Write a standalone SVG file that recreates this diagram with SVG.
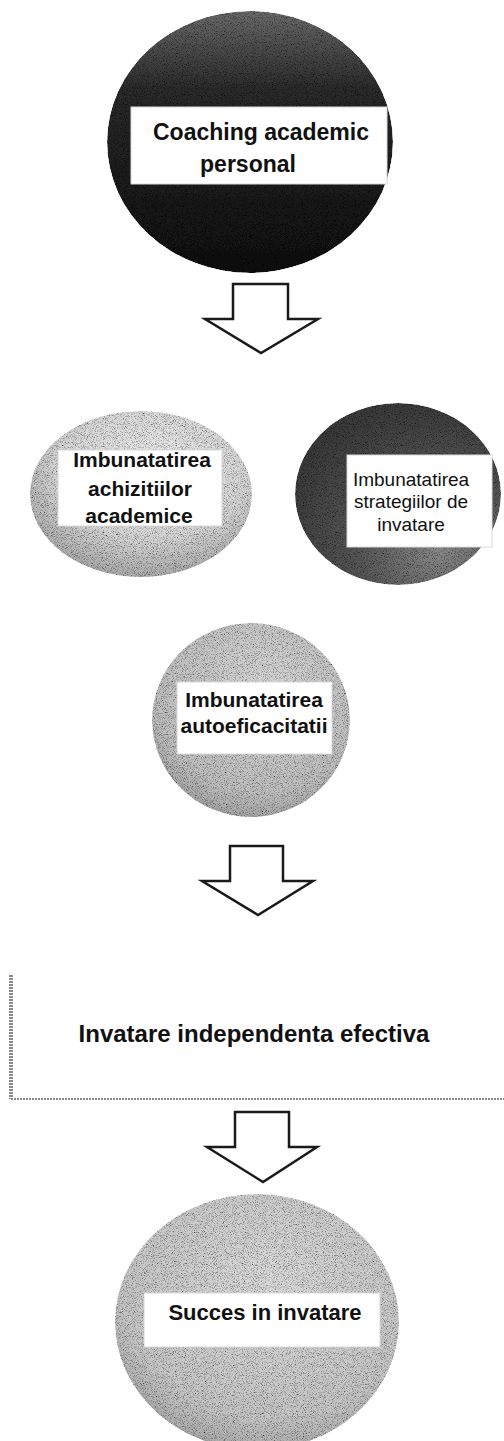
<svg xmlns="http://www.w3.org/2000/svg" width="504" height="1441" viewBox="0 0 504 1441">
<style>
.lbl{fill:#ffffff;stroke:#d8d8d8;stroke-width:1}
.t{font-family:"Liberation Sans",Arial,sans-serif;font-weight:bold;fill:#111111;text-anchor:middle}
.tr{font-family:"Liberation Sans",Arial,sans-serif;font-weight:normal;fill:#111111;text-anchor:middle}
.arrow{fill:#ffffff;stroke:#1a1a1a;stroke-width:2.5;stroke-linejoin:miter}
</style>
<defs>
<filter id="grain" x="0" y="0" width="100%" height="100%">
<feTurbulence type="fractalNoise" baseFrequency="1.1" numOctaves="2" seed="7" result="noise"/>
<feColorMatrix in="noise" type="matrix" values="2.2 0 0 0 -0.2  2.2 0 0 0 -0.2  2.2 0 0 0 -0.2  0 0 0 0 1" result="gn"/>
<feBlend in="SourceGraphic" in2="gn" mode="multiply" result="b"/>
<feComposite in="b" in2="SourceGraphic" operator="in"/>
</filter>
<linearGradient id="gTop" x1="0" y1="0" x2="0" y2="1">
<stop offset="0" stop-color="#6a6a6a"/>
<stop offset="0.3" stop-color="#2a2a2a"/>
<stop offset="1" stop-color="#0e0e0e"/>
</linearGradient>
<radialGradient id="gLeft" cx="0.55" cy="0.35" r="0.7">
<stop offset="0" stop-color="#ececec"/>
<stop offset="0.6" stop-color="#d6d6d6"/>
<stop offset="1" stop-color="#a2a2a2"/>
</radialGradient>
<radialGradient id="gRight" cx="0.7" cy="0.8" r="0.8">
<stop offset="0" stop-color="#8a8a8a"/>
<stop offset="0.5" stop-color="#555555"/>
<stop offset="1" stop-color="#3a3a3a"/>
</radialGradient>
<radialGradient id="gMid" cx="0.55" cy="0.35" r="0.75">
<stop offset="0" stop-color="#d6d6d6"/>
<stop offset="0.7" stop-color="#bfbfbf"/>
<stop offset="1" stop-color="#959595"/>
</radialGradient>
<radialGradient id="gBot" cx="0.55" cy="0.35" r="0.75">
<stop offset="0" stop-color="#dadada"/>
<stop offset="0.7" stop-color="#c6c6c6"/>
<stop offset="1" stop-color="#9a9a9a"/>
</radialGradient>
</defs>
<rect x="0" y="0" width="504" height="1441" fill="#ffffff"/>

<g id="node-coaching">
<ellipse cx="250" cy="142" rx="143" ry="131" fill="url(#gTop)" filter="url(#grain)"/>
<rect class="lbl" x="131" y="107" width="256" height="77"/>
<text class="t" x="261" y="140" font-size="23">Coaching academic</text>
<text class="t" x="248" y="172" font-size="23">personal</text>
</g>

<g id="node-achizitii">
<ellipse cx="141" cy="494" rx="111" ry="83" fill="url(#gLeft)" filter="url(#grain)"/>
<rect class="lbl" x="58" y="450" width="164" height="76"/>
<text class="t" x="142" y="467" font-size="21">Imbunatatirea</text>
<text class="t" x="140" y="496" font-size="21">achizitiilor</text>
<text class="t" x="139" y="523" font-size="21">academice</text>
</g>

<g id="node-strategii">
<ellipse cx="398" cy="494" rx="103" ry="91" fill="url(#gRight)" filter="url(#grain)"/>
<rect class="lbl" x="347" y="455" width="145" height="92"/>
<text class="tr" x="411" y="486" font-size="19">Imbunatatirea</text>
<text class="tr" x="411" y="508" font-size="19">strategiilor de</text>
<text class="tr" x="411" y="531" font-size="19">invatare</text>
</g>

<g id="node-autoeficacitate">
<ellipse cx="251" cy="720" rx="99" ry="97" fill="url(#gMid)" filter="url(#grain)"/>
<rect class="lbl" x="177" y="682" width="155" height="72"/>
<text class="t" x="254" y="707" font-size="21">Imbunatatirea</text>
<text class="t" x="254" y="733" font-size="21">autoeficacitatii</text>
</g>

<g id="node-invatare">
<rect x="11" y="975" width="493" height="124" fill="#ffffff"/>
<path d="M11,975 L11,1099" fill="none" stroke="#8a8a8a" stroke-width="4" stroke-dasharray="2 1"/>
<path d="M11,1099 L504,1099" fill="none" stroke="#8a8a8a" stroke-width="2" stroke-dasharray="2 1"/>
<text class="t" x="254" y="1042" font-size="24">Invatare independenta efectiva</text>
</g>

<g id="node-succes">
<ellipse cx="257" cy="1322" rx="142" ry="128" fill="url(#gBot)" filter="url(#grain)"/>
<rect class="lbl" x="144" y="1293" width="236" height="54"/>
<text class="t" x="265" y="1320" font-size="22">Succes in invatare</text>
</g>

<g id="connectors">
<polygon class="arrow" points="233,284 288,284 288,319 318,319 261,353 205,319 233,319"/>
<polygon class="arrow" points="230,846 283,846 283,881 313,881 258,915 202,881 230,881"/>
<polygon class="arrow" points="235,1112 289,1112 289,1147 317,1147 263,1182 207,1147 235,1147"/>
</g>
</svg>
